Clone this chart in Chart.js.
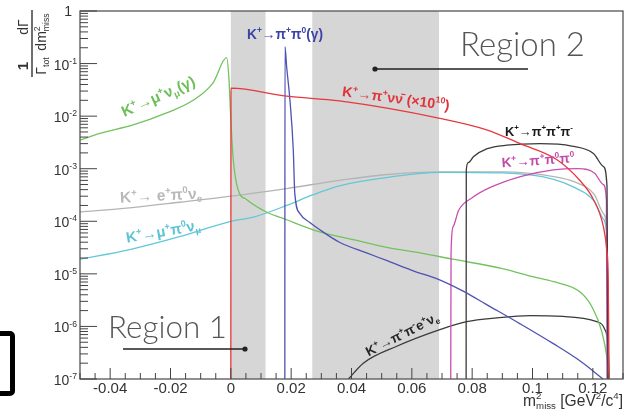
<!DOCTYPE html>
<html>
<head>
<meta charset="utf-8">
<script src="https://cdn.jsdelivr.net/npm/chart.js@4.4.1/dist/chart.umd.min.js"></script>
<style>
  html, body { margin: 0; padding: 0; background: #fff; }
  #wrap { position: relative; width: 633px; height: 413px; overflow: hidden; }
  #bracket { position: absolute; left: -12px; top: 331px; width: 17px; height: 55px;
             border: 5px solid #000; border-radius: 5px; }
</style>
</head>
<body>
<div id="wrap">
  <canvas id="kaonDecays" width="633" height="413"></canvas>
  <div id="bracket"></div>
</div>
<script>
// m2_miss values (GeV^2/c^4) and 1/G dG/dm2
const muNuX = [-0.050, -0.0434, -0.0324, -0.0213, -0.0125, -0.0059, -0.0014, -0.0006, 0.0, 0.0008, 0.0024, 0.0052, 0.0118, 0.0185, 0.0273, 0.036, 0.0405, 0.0517, 0.0627, 0.0736, 0.090, 0.100, 0.107, 0.1158, 0.120, 0.123, 0.1247, 0.1254];
const muNuY = [3.5e-3, 4.7e-3, 6.8e-3, 1.15e-2, 2.0e-2, 4.3e-2, 0.13, 4.9e-2, 8.5e-3, 1.5e-3, 4.0e-4, 2.6e-4, 1.5e-4, 1.07e-4, 6.9e-5, 5.1e-5, 4.5e-5, 3.2e-5, 2.5e-5, 1.9e-5, 1.26e-5, 8.9e-6, 7.1e-6, 4.5e-6, 2.2e-6, 7.9e-7, 2.5e-7, 1e-7];

const pnnX = [0, 0.00005, 0.0185, 0.036, 0.0693, 0.0848, 0.0959, 0.108, 0.1158, 0.1202, 0.1235, 0.1246, 0.1251, 0.1254];
const pnnY = [1e-7, 3.4e-2, 2.4e-2, 1.95e-2, 9.1e-3, 5.5e-3, 3.0e-3, 1.5e-3, 5.9e-4, 2.6e-4, 7.9e-5, 2.9e-5, 7.8e-6, 1e-7];

const ppX = [0.0179, 0.01795, 0.0185, 0.0196, 0.0207, 0.0212, 0.0229, 0.0262, 0.0295, 0.036, 0.045, 0.0516, 0.060, 0.069, 0.077, 0.0848, 0.0959, 0.1069, 0.1158, 0.1234];
const ppY = [1e-7, 0.21, 8.7e-2, 2.0e-2, 2.3e-3, 3.4e-4, 1.4e-4, 9.5e-5, 6.9e-5, 4.0e-5, 2.5e-5, 1.8e-5, 1.17e-5, 7.8e-6, 4.7e-6, 2.6e-6, 1.12e-6, 4.7e-7, 2.2e-7, 1.0e-7];

const epnX = [-0.050, -0.0335, -0.017, 0.0, 0.0185, 0.036, 0.050, 0.070, 0.090, 0.107, 0.114, 0.1205, 0.1235, 0.1247, 0.1252];
const epnY = [1.5e-4, 1.8e-4, 2.3e-4, 3.0e-4, 4.2e-4, 6.0e-4, 7.6e-4, 8.7e-4, 8.7e-4, 7.1e-4, 5.6e-4, 3.2e-4, 1.4e-4, 6.3e-5, 1e-7];

const mpnX = [-0.050, -0.0335, -0.017, 0.0, 0.0075, 0.0185, 0.0273, 0.036, 0.050, 0.070, 0.090, 0.107, 0.1135, 0.1205, 0.1235, 0.1247, 0.1252];
const mpnY = [1.9e-5, 2.9e-5, 5.1e-5, 1.0e-4, 1.2e-4, 2.0e-4, 3.2e-4, 4.7e-4, 6.6e-4, 8.5e-4, 8.3e-4, 6.3e-4, 4.5e-4, 2.4e-4, 1.1e-4, 4.5e-5, 1e-7];

const p3X = [0.078, 0.07805, 0.0787, 0.0805, 0.085, 0.0915, 0.1025, 0.113, 0.1202, 0.1235, 0.1247, 0.1250];
const p3Y = [1e-7, 9.5e-4, 1.3e-3, 1.7e-3, 2.4e-3, 2.8e-3, 3.0e-3, 2.7e-3, 1.95e-3, 1.1e-3, 4.6e-4, 1e-7];

const p00X = [0.0729, 0.0730, 0.0737, 0.0755, 0.080, 0.086, 0.096, 0.107, 0.115, 0.1205, 0.1235, 0.1245, 0.1247];
const p00Y = [1e-7, 2.5e-5, 7.9e-5, 1.6e-4, 2.8e-4, 4.4e-4, 7.1e-4, 9.5e-4, 1.0e-3, 8.3e-4, 5.0e-4, 2.5e-4, 1e-7];

const ke4X = [0.039, 0.0439, 0.055, 0.0693, 0.0782, 0.0881, 0.0992, 0.1102, 0.1213, 0.124, 0.1251, 0.1254];
const ke4Y = [1e-7, 2.0e-7, 4.2e-7, 8.7e-7, 1.23e-6, 1.45e-6, 1.6e-6, 1.55e-6, 1.23e-6, 8.7e-7, 3.6e-7, 1e-7];

// signal regions (m2_miss)
const region1 = [0, 0.0115];
const region2 = [0.027, 0.069];

const xTickValues = [-0.04, -0.02, 0, 0.02, 0.04, 0.06, 0.08, 0.1, 0.12];
const xTickLabels = ['-0.04', '-0.02', '0', '0.02', '0.04', '0.06', '0.08', '0.1', '0.12'];
const yTickValues = [1e-7, 1e-6, 1e-5, 1e-4, 1e-3, 1e-2, 1e-1, 1];
const yTickExps = ['-7', '-6', '-5', '-4', '-3', '-2', '-1', ''];

const FONT = '"Liberation Sans", Arial, Helvetica, sans-serif';

function series(xs, ys) {
  return xs.map((x, i) => ({ x: x, y: ys[i] }));
}

// tiny "^{..}" / "_{..}" markup for the ROOT style labels
function richParts(s) {
  const out = [];
  let buf = '', i = 0;
  while (i < s.length) {
    const c = s[i];
    if ((c === '^' || c === '_') && s[i + 1] === '{') {
      if (buf) { out.push({ t: buf, m: 0 }); buf = ''; }
      const j = s.indexOf('}', i);
      out.push({ t: s.slice(i + 2, j), m: c === '^' ? 1 : -1 });
      i = j + 1;
    } else { buf += c; i++; }
  }
  if (buf) out.push({ t: buf, m: 0 });
  return out;
}

function drawRich(ctx, s, x, y, o) {
  const wt = o.weight || 'normal';
  const fam = o.family || FONT;
  const parts = richParts(s);
  const setFont = sz => { ctx.font = wt + ' ' + sz + 'px ' + fam; };
  const layout = size => {
    let w = 0, supStart = 0, supW = 0, prev = null;
    parts.forEach(p => {
      setFont(p.m ? size * 0.62 : size);
      const pw = ctx.measureText(p.t).width;
      if (p.m === -1 && prev && prev.m === 1) {
        p.dx = supStart;
        w = supStart + Math.max(supW, pw);
      } else {
        p.dx = w;
        if (p.m === 1) { supStart = w; supW = pw; }
        w += pw;
      }
      prev = p;
    });
    return w;
  };
  let size = o.size || 13;
  if (o.width) size = size * o.width / layout(size);
  const w = layout(size);
  ctx.save();
  ctx.translate(x, y);
  ctx.rotate((o.angle || 0) * Math.PI / 180);
  ctx.fillStyle = o.color || '#000';
  ctx.textBaseline = 'alphabetic';
  ctx.textAlign = 'left';
  const x0 = o.align === 'right' ? -w : o.align === 'left' ? 0 : -w / 2;
  const yb = o.middle ? size * 0.36 : 0;
  parts.forEach(p => {
    setFont(p.m ? size * 0.62 : size);
    const dy = p.m === 1 ? -size * 0.42 : p.m === -1 ? size * 0.22 : 0;
    ctx.fillText(p.t, x0 + p.dx, yb + dy);
  });
  ctx.restore();
  return w;
}

const curveLabels = [
  { t: 'K^{+}→μ^{+}ν_{μ}(γ)', x: 158, y: 96, angle: -24, width: 79, color: '#6cbf57' },
  { t: 'K^{+}→π^{+}π^{0}(γ)', x: 285, y: 34, angle: 0, width: 76, color: '#3b44a6' },
  { t: 'K^{+}→π^{+}νν̄ (×10^{10})', x: 396, y: 98, angle: 7.5, width: 108, color: '#e0333a' },
  { t: 'K^{+}→π^{+}π^{+}π^{-}', x: 539, y: 131, angle: 0, width: 68, color: '#1a1a1a' },
  { t: 'K^{+}→π^{+}π^{0}π^{0}', x: 538, y: 160, angle: -4, width: 73, color: '#c24aa6' },
  { t: 'K^{+}→ e^{+}π^{0}ν_{e}', x: 161, y: 195, angle: -3, width: 82, color: '#b8b8b8' },
  { t: 'K^{+}→μ^{+}π^{0}ν_{μ}', x: 163, y: 231, angle: -10, width: 75, color: '#5bc4d4' },
  { t: 'K^{+}→π^{+}π^{-}e^{+}ν_{e}', x: 402, y: 334, angle: -27, width: 80, color: '#262626' }
];

const decor = {
  id: 'decor',
  beforeDatasetsDraw(chart) {
    const { ctx, chartArea: a, scales: { x } } = chart;
    ctx.save();
    ctx.fillStyle = '#d6d6d6';
    [region1, region2].forEach(r => {
      const x0 = x.getPixelForValue(r[0]), x1 = x.getPixelForValue(r[1]);
      ctx.fillRect(x0, a.top, x1 - x0, a.bottom - a.top);
    });
    ctx.restore();
  },
  afterDatasetsDraw(chart) {
    const { ctx, chartArea: a, scales: { x, y } } = chart;
    ctx.save();
    // frame
    ctx.strokeStyle = '#555';
    ctx.lineWidth = 1.3;
    ctx.strokeRect(a.left, a.top, a.right - a.left, a.bottom - a.top);

    // inward ticks
    ctx.lineWidth = 1;
    ctx.strokeStyle = '#444';
    ctx.beginPath();
    for (let e = -7; e <= 0; e++) {
      const py = y.getPixelForValue(Math.pow(10, e));
      ctx.moveTo(a.left, py); ctx.lineTo(a.left + 17, py);
      if (e < 0) {
        for (let k = 2; k <= 9; k++) {
          const pm = y.getPixelForValue(k * Math.pow(10, e));
          ctx.moveTo(a.left, pm); ctx.lineTo(a.left + 8, pm);
        }
      }
    }
    for (let i = 0; i <= 36; i++) {
      const v = -0.05 + i * 0.005;
      const px = x.getPixelForValue(v);
      const major = xTickValues.some(t => Math.abs(t - v) < 1e-6);
      ctx.moveTo(px, a.bottom); ctx.lineTo(px, a.bottom - (major ? 11 : 6));
    }
    ctx.stroke();

    // y tick labels 10^n
    yTickValues.forEach((v, i) => {
      const py = y.getPixelForValue(v);
      if (yTickExps[i] === '') {
        drawRich(ctx, '1', 72, py, { size: 14, color: '#333', align: 'right', middle: true });
      } else {
        drawRich(ctx, '10^{' + yTickExps[i] + '}', 77, py + 1, { size: 14, color: '#333', align: 'right', middle: true });
      }
    });

    // curve labels
    curveLabels.forEach(l => {
      drawRich(ctx, l.t, l.x, l.y, { size: 13, weight: 'bold', color: l.color, angle: l.angle, width: l.width, middle: true });
    });

    // region annotations
    ctx.fillStyle = '#222';
    ctx.strokeStyle = '#222';
    ctx.lineWidth = 1.5;
    ctx.beginPath();
    ctx.moveTo(123, 349); ctx.lineTo(245, 349);
    ctx.moveTo(375, 69); ctx.lineTo(528, 69);
    ctx.stroke();
    [[245, 349], [375, 69]].forEach(p => {
      ctx.beginPath(); ctx.arc(p[0], p[1], 2.6, 0, Math.PI * 2); ctx.fill();
    });
    const regionFont = 'Lato, "Open Sans", Roboto, sans-serif';
    drawRich(ctx, 'Region 1', 108, 338, { size: 34, weight: '300', family: regionFont, color: '#555', align: 'left', width: 119 });
    drawRich(ctx, 'Region 2', 460, 56, { size: 34, weight: '300', family: regionFont, color: '#555', align: 'left', width: 125 });

    // axis titles
    drawRich(ctx, 'm^{2}_{miss} [GeV^{2}/c^{4}]', 623, 406, { size: 14, color: '#333', align: 'right', width: 100 });

    ctx.translate(32, 44);
    ctx.rotate(-Math.PI / 2);
    ctx.fillStyle = '#333';
    ctx.fillRect(-33, -0.7, 22, 1.4);
    ctx.fillRect(-11, -0.7, 45, 1.4);
    drawRich(ctx, '1', -22, -4, { size: 15, weight: 'bold', color: '#333' });
    drawRich(ctx, 'Γ_{tot}', -22, 14, { size: 14, color: '#333' });
    drawRich(ctx, 'dΓ', 17, -4, { size: 14, color: '#333' });
    drawRich(ctx, 'dm^{2}_{miss}', 12, 14, { size: 14, color: '#333' });
    ctx.restore();
  }
};

const ctxMain = document.getElementById('kaonDecays').getContext('2d');

const lineStyle = { showLine: true, pointRadius: 0, borderWidth: 1.3, fill: false, cubicInterpolationMode: 'monotone' };

const kaonChart = new Chart(ctxMain, {
  type: 'scatter',
  data: {
    datasets: [
      Object.assign({ label: 'K+ -> pi+ nu nubar (x1e10)', data: series(pnnX, pnnY), borderColor: '#e8373d' }, lineStyle),
      Object.assign({ label: 'K+ -> pi+ pi0 (gamma)', data: series(ppX, ppY), borderColor: '#4d52b3' }, lineStyle),
      Object.assign({ label: 'K+ -> pi+ pi+ pi-', data: series(p3X, p3Y), borderColor: '#3a3a3a' }, lineStyle),
      Object.assign({ label: 'K+ -> pi+ pi0 pi0', data: series(p00X, p00Y), borderColor: '#c84fb0' }, lineStyle),
      Object.assign({ label: 'K+ -> mu+ nu (gamma)', data: series(muNuX, muNuY), borderColor: '#72c25e' }, lineStyle),
      Object.assign({ label: 'K+ -> mu+ pi0 nu', data: series(mpnX, mpnY), borderColor: '#62c8d6' }, lineStyle),
      Object.assign({ label: 'K+ -> e+ pi0 nu', data: series(epnX, epnY), borderColor: '#b4b4b4' }, lineStyle),
      Object.assign({ label: 'K+ -> pi+ pi- e+ nu', data: series(ke4X, ke4Y), borderColor: '#3a3a3a' }, lineStyle)
    ]
  },
  options: {
    responsive: false,
    animation: false,
    layout: { padding: { top: 11, right: 10, left: 0, bottom: 0 } },
    plugins: { legend: { display: false }, tooltip: { enabled: false } },
    scales: {
      x: {
        type: 'linear',
        min: -0.05,
        max: 0.13,
        grid: { display: false, drawTicks: false },
        border: { display: false },
        afterBuildTicks: s => { s.ticks = xTickValues.map(v => ({ value: v })); },
        afterFit: s => { s.height = 34; },
        ticks: {
          autoSkip: false,
          maxRotation: 0,
          padding: 1,
          color: '#333',
          font: { family: FONT, size: 15 },
          callback: (v, i) => xTickLabels[i]
        }
      },
      y: {
        type: 'logarithmic',
        min: 1e-7,
        max: 1,
        grid: { display: false, drawTicks: false },
        border: { display: false },
        ticks: { display: false },
        afterFit: s => { s.width = 80; }
      }
    }
  },
  plugins: [decor]
});
</script>
</body>
</html>
